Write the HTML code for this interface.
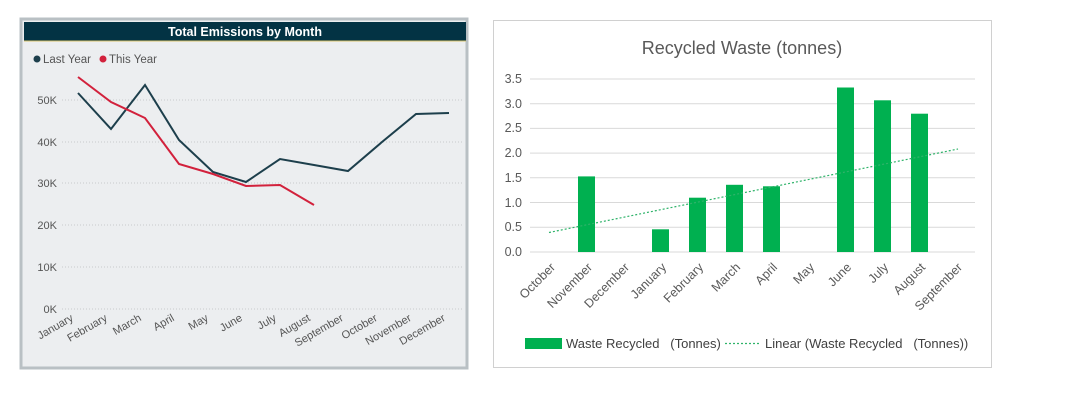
<!DOCTYPE html>
<html><head><meta charset="utf-8"><style>
body{margin:0;background:#fff;width:1067px;height:400px;overflow:hidden;font-family:"Liberation Sans",sans-serif}
</style></head><body>
<svg width="1067" height="400" xmlns="http://www.w3.org/2000/svg" font-family="Liberation Sans, sans-serif">
<!-- Left panel -->
<rect x="21" y="19" width="446" height="349" fill="#eceef0" stroke="#b9c0c4" stroke-width="3"/>
<rect x="24" y="22" width="442" height="19" fill="#033344"/>
<line x1="24" y1="41" x2="466" y2="41" stroke="#d9c36a" stroke-width="1"/>
<text x="245" y="36" text-anchor="middle" fill="#fff" font-size="12.5" font-weight="bold">Total Emissions by Month</text>
<circle cx="37" cy="59" r="3.5" fill="#1d3f4c"/><text x="43" y="63" font-size="11.5" fill="#555">Last Year</text>
<circle cx="103" cy="59" r="3.5" fill="#d2213c"/><text x="109" y="63" font-size="11.5" fill="#555">This Year</text>
<g stroke="#c8cbcd" stroke-dasharray="1,2" stroke-width="1">
<line x1="62" y1="100" x2="462" y2="100"/><line x1="62" y1="142" x2="462" y2="142"/><line x1="62" y1="183" x2="462" y2="183"/><line x1="62" y1="225" x2="462" y2="225"/><line x1="62" y1="267" x2="462" y2="267"/><line x1="62" y1="309" x2="462" y2="309"/>
</g>
<g font-size="11" fill="#555" text-anchor="end">
<text x="57" y="104">50K</text><text x="57" y="146">40K</text><text x="57" y="187">30K</text><text x="57" y="229">20K</text><text x="57" y="271">10K</text><text x="57" y="313">0K</text>
</g>
<g font-size="11" fill="#555" text-anchor="end">
<text transform="translate(74,320) rotate(-30)">January</text>
<text transform="translate(108,320) rotate(-30)">February</text>
<text transform="translate(142,320) rotate(-30)">March</text>
<text transform="translate(175,320) rotate(-30)">April</text>
<text transform="translate(209,320) rotate(-30)">May</text>
<text transform="translate(243,320) rotate(-30)">June</text>
<text transform="translate(277,320) rotate(-30)">July</text>
<text transform="translate(311,320) rotate(-30)">August</text>
<text transform="translate(344,320) rotate(-30)">September</text>
<text transform="translate(378,320) rotate(-30)">October</text>
<text transform="translate(412,320) rotate(-30)">November</text>
<text transform="translate(446,320) rotate(-30)">December</text>
</g>
<polyline fill="none" stroke="#1d3f4c" stroke-width="2" points="78,93 111,129 145,85 179,140 213,172 246,182 280,159 314,165 348,171 382,142 416,114 449,113"/>
<polyline fill="none" stroke="#d2213c" stroke-width="2" points="78,77 111,102 145,118 179,164 213,174 246,186 280,185 314,205"/>

<!-- Right panel -->
<rect x="493.5" y="20.5" width="498" height="347" fill="#fff" stroke="#d0d0d0"/>
<text x="742" y="54" text-anchor="middle" font-size="18" fill="#595959">Recycled Waste (tonnes)</text>
<g stroke="#d9d9d9" stroke-width="1">
<line x1="530" y1="79" x2="975" y2="79"/><line x1="530" y1="103.7" x2="975" y2="103.7"/><line x1="530" y1="128.4" x2="975" y2="128.4"/><line x1="530" y1="153.1" x2="975" y2="153.1"/><line x1="530" y1="177.8" x2="975" y2="177.8"/><line x1="530" y1="202.5" x2="975" y2="202.5"/><line x1="530" y1="227.2" x2="975" y2="227.2"/><line x1="530" y1="252" x2="975" y2="252"/>
</g>
<g font-size="12.5" fill="#595959" text-anchor="end">
<text x="522" y="83">3.5</text><text x="522" y="108">3.0</text><text x="522" y="132">2.5</text><text x="522" y="157">2.0</text><text x="522" y="182">1.5</text><text x="522" y="207">1.0</text><text x="522" y="231">0.5</text><text x="522" y="256">0.0</text>
</g>
<g fill="#00b050">
<rect x="578" y="176.4" width="17" height="75.6"/>
<rect x="652" y="229.3" width="17" height="22.7"/>
<rect x="689" y="197.7" width="17" height="54.3"/>
<rect x="726" y="184.8" width="17" height="67.2"/>
<rect x="763" y="186.3" width="17" height="65.7"/>
<rect x="837" y="87.5" width="17" height="164.5"/>
<rect x="874" y="100.3" width="17" height="151.7"/>
<rect x="911" y="113.7" width="17" height="138.3"/>
</g>
<line x1="549" y1="232.5" x2="958" y2="149" stroke="#2fb36a" stroke-width="1.2" stroke-dasharray="2,2"/>
<g font-size="12.5" fill="#595959" text-anchor="end">
<text transform="translate(556,268) rotate(-45)">October</text>
<text transform="translate(593,268) rotate(-45)">November</text>
<text transform="translate(630,268) rotate(-45)">December</text>
<text transform="translate(667,268) rotate(-45)">January</text>
<text transform="translate(704,268) rotate(-45)">February</text>
<text transform="translate(741,268) rotate(-45)">March</text>
<text transform="translate(778,268) rotate(-45)">April</text>
<text transform="translate(815,268) rotate(-45)">May</text>
<text transform="translate(852,268) rotate(-45)">June</text>
<text transform="translate(889,268) rotate(-45)">July</text>
<text transform="translate(926,268) rotate(-45)">August</text>
<text transform="translate(963,268) rotate(-45)">September</text>
</g>
<rect x="525" y="338" width="37" height="11" fill="#00b050"/>
<text x="566" y="348" font-size="13" fill="#404040" xml:space="preserve">Waste Recycled   (Tonnes)</text>
<line x1="725" y1="343.5" x2="761" y2="343.5" stroke="#2fb36a" stroke-width="1.2" stroke-dasharray="2,2"/>
<text x="765" y="348" font-size="13" fill="#404040" xml:space="preserve">Linear (Waste Recycled   (Tonnes))</text>
</svg>
</body></html>
